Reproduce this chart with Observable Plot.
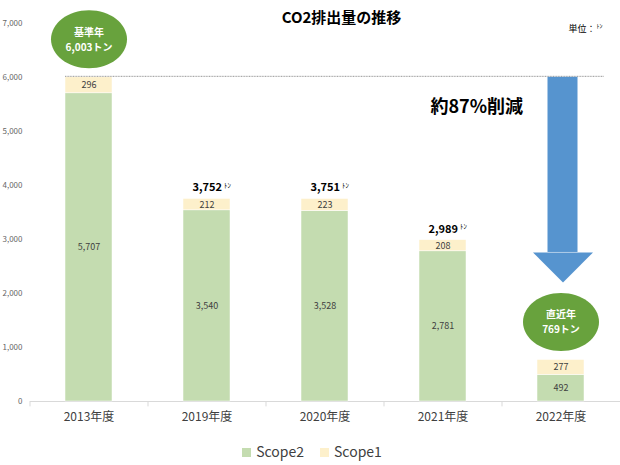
<!DOCTYPE html>
<html><head><meta charset="utf-8">
<script src="https://cdn.jsdelivr.net/npm/d3@7"></script>
<script src="https://cdn.jsdelivr.net/npm/@observablehq/plot@0.6"></script>
<style>
body{margin:0;background:#fff;font-family:'Noto Sans CJK JP','Noto Sans',sans-serif;}
#wrap{width:620px;height:465px;position:relative;}
.legend{display:flex;justify-content:center;align-items:center;gap:16px;height:29px;font-size:14px;color:#404040;padding-left:4px;}
.legend span.sw{display:inline-block;width:9px;height:9px;margin-right:5px;vertical-align:middle;}
</style></head>
<body><div id="wrap"></div>
<script>
const years = ["2013年度","2019年度","2020年度","2021年度","2022年度"];
const scope2 = [5707,3540,3528,2781,492];
const scope1 = [296,212,223,208,277];
const totalYears = ["2019年度","2020年度","2021年度"];
const totalValues = [3752,3751,2989];
const badgeYears = ["2013年度","2022年度"];
const badgeTotals = [6003,769];
const badgeLabels = ["基準年\n6,003トン","直近年\n769トン"];
const baseLine = [6003];
const arrowYear = ["2022年度"];
const arrowFrom = [6003];
const arrowHead = [2760];
const reductionText = ["約87%削減"];
const yTicks = [0,1000,2000,3000,4000,5000,6000,7000];
const seriesNames = ["Scope2","Scope1"];
const colors = ["#c4dcb0","#fdf0cb"];

const font = "'Noto Sans CJK JP','Noto Sans',sans-serif";
const rows = [];
years.forEach((y,i)=>{
  rows.push({year:y, series:"Scope2", y1:0, y2:scope2[i], v:scope2[i]});
  rows.push({year:y, series:"Scope1", y1:scope2[i], y2:scope2[i]+scope1[i], v:scope1[i]});
});
const totals = totalYears.map((y,i)=>({year:y,total:totalValues[i]}));
const badges = badgeYears.map((y,i)=>({year:y,total:badgeTotals[i],label:badgeLabels[i]}));
const arrows = arrowYear.map((y,i)=>({year:y,from:arrowFrom[i],head:arrowHead[i]}));

const ellipse = {draw(ctx){const rx=38,ry=29,k=0.5523;
  ctx.moveTo(rx,0);
  ctx.bezierCurveTo(rx,ry*k,rx*k,ry,0,ry);
  ctx.bezierCurveTo(-rx*k,ry,-rx,ry*k,-rx,0);
  ctx.bezierCurveTo(-rx,-ry*k,-rx*k,-ry,0,-ry);
  ctx.bezierCurveTo(rx*k,-ry,rx,-ry*k,rx,0);
  ctx.closePath();}};
const headSym = {draw(ctx){ctx.moveTo(-30,0);ctx.lineTo(30,0);ctx.lineTo(0,30);ctx.closePath();}};

const chart = Plot.plot({
  width:620, height:436,
  marginLeft:30, marginRight:0, marginTop:23, marginBottom:35,
  style:{fontFamily:font, background:"#fff"},
  x:{domain:years, paddingInner:0.6, paddingOuter:0.3, label:null},
  y:{domain:[0,7000], label:null},
  color:{domain:seriesNames, range:colors},
  marks:[
    Plot.ruleY([0],{stroke:"#d9d9d9", strokeWidth:1}),
    Plot.ruleX(years,{x:d=>d, y1:0, y2:-100, dx:-59, stroke:"#d9d9d9"}),
    Plot.axisY({ticks:yTicks, tickFormat:d3.format(","), tickSize:0, tickPadding:8, fontSize:8, color:"#666666", label:null}),
    Plot.axisX({tickSize:0, tickPadding:11, fontSize:12, color:"#404040", label:null}),
    Plot.barY(rows,{x:"year", y1:"y1", y2:"y2", fill:"series", stroke:"#fff", strokeWidth:0.5}),
    Plot.text(rows,{x:"year", y:d=>(d.y1+d.y2)/2, text:d=>d3.format(",")(d.v), fontSize:9, fill:"#404040"}),
    Plot.ruleY(baseLine,{insetLeft:35, insetRight:16, stroke:"#8c8c8c", strokeWidth:0.9, strokeDasharray:"1,0.6", dy:-1}),
    Plot.text(totals,{x:"year", y:"total", text:d=>d3.format(",")(d.total), dy:-11, dx:15, textAnchor:"end", fontSize:11, fontWeight:"bold", fill:"#000"}),
    Plot.text(totals,{x:"year", y:"total", text:()=>"ﾄﾝ", dy:-13, dx:17, textAnchor:"start", fontSize:7, fill:"#000"}),
    Plot.dot(badges,{x:"year", y:"total", symbol:ellipse, r:5, fill:"#68a23d", stroke:"none", dy:-38}),
    Plot.text(badges,{x:"year", y:"total", text:"label", dy:-39, lineHeight:1.5, fontSize:10, fontWeight:"bold", fill:"#fff"}),
    Plot.rect(arrows,{x:"year", y1:"from", y2:"head", insetLeft:10.5, insetRight:6.5, fill:"#5694cf"}),
    Plot.dot(arrows,{x:"year", y:"head", symbol:headSym, r:5, dx:2, fill:"#5694cf", stroke:"none"}),
    Plot.text(reductionText,{frameAnchor:"top-left", dx:400, dy:77, textAnchor:"start", fontSize:18, fontWeight:"bold", fill:"#000"}),
    Plot.text(["CO2排出量の推移"],{frameAnchor:"top", dx:16, dy:-11, fontSize:15, fontWeight:"bold", fill:"#000"}),
    Plot.text(["単位："],{frameAnchor:"top-right", dx:-25, dy:2, textAnchor:"end", fontSize:9, fill:"#000"}),
    Plot.text(["ﾄﾝ"],{frameAnchor:"top-right", dx:-24, dy:0, textAnchor:"start", fontSize:6, fill:"#000"})
  ]
});
const wrap = document.getElementById("wrap");
wrap.appendChild(chart);
const lg = document.createElement("div");
lg.className="legend";
lg.innerHTML = seriesNames.map((n,i)=>`<span><span class="sw" style="background:${colors[i]}"></span>${n}</span>`).join("");
wrap.appendChild(lg);
</script></body></html>
